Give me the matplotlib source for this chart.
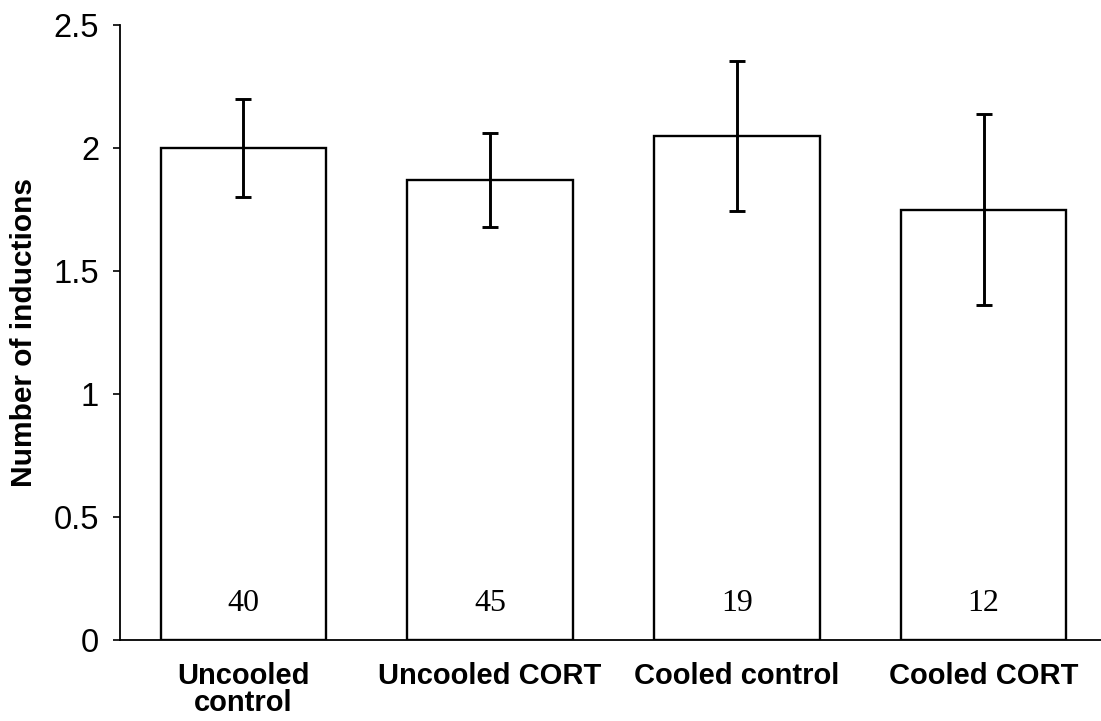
import matplotlib
matplotlib.use("Agg")
import matplotlib.pyplot as plt

# Mean number of inductions per group, with error bars and sample sizes
groups = ["Uncooled\ncontrol", "Uncooled CORT", "Cooled control", "Cooled CORT"]
means = [2.0, 1.87, 2.05, 1.75]
errors = [0.20, 0.19, 0.305, 0.39]
n_counts = [40, 45, 19, 12]
y_ticks = [0, 0.5, 1, 1.5, 2, 2.5]
y_tick_labels = ["0", "0.5", "1", "1.5", "2", "2.5"]

plt.rcParams["font.family"] = ["Liberation Sans", "DejaVu Sans"]

fig = plt.figure(figsize=(11.01, 7.21), dpi=100)
ax = fig.add_axes([120 / 1101, 81 / 721, 987 / 1101, 615 / 721])

x = list(range(len(groups)))
ax.bar(x, means, width=0.67, color="white", edgecolor="black", linewidth=1.7, zorder=2)
ax.errorbar(x, means, yerr=errors, fmt="none", ecolor="black", elinewidth=2.1,
            capsize=6, capthick=2.1, zorder=3)

for xi, n in zip(x, n_counts):
    ax.text(xi, 0.15, str(n), ha="center", va="center", fontsize=23,
            family=["Liberation Serif", "DejaVu Serif"], zorder=4)

ax.set_xlim(-0.5, 3.5)
ax.set_ylim(0, 2.5)
ax.set_yticks(y_ticks)
ax.set_yticklabels(y_tick_labels)
ax.set_xticks(x)
ax.set_xticklabels(groups, fontsize=21, fontweight="bold", linespacing=0.95)

ax.tick_params(axis="y", direction="out", length=5, width=1.2, pad=10, labelsize=23.5)
ax.tick_params(axis="x", length=0, pad=16)

ax.spines["top"].set_visible(False)
ax.spines["right"].set_visible(False)
ax.spines["left"].set_linewidth(1.3)
ax.spines["bottom"].set_linewidth(1.3)

ax.set_ylabel("Number of inductions", fontsize=21.5, fontweight="bold", labelpad=11)

fig.savefig("out.png", dpi=100)
